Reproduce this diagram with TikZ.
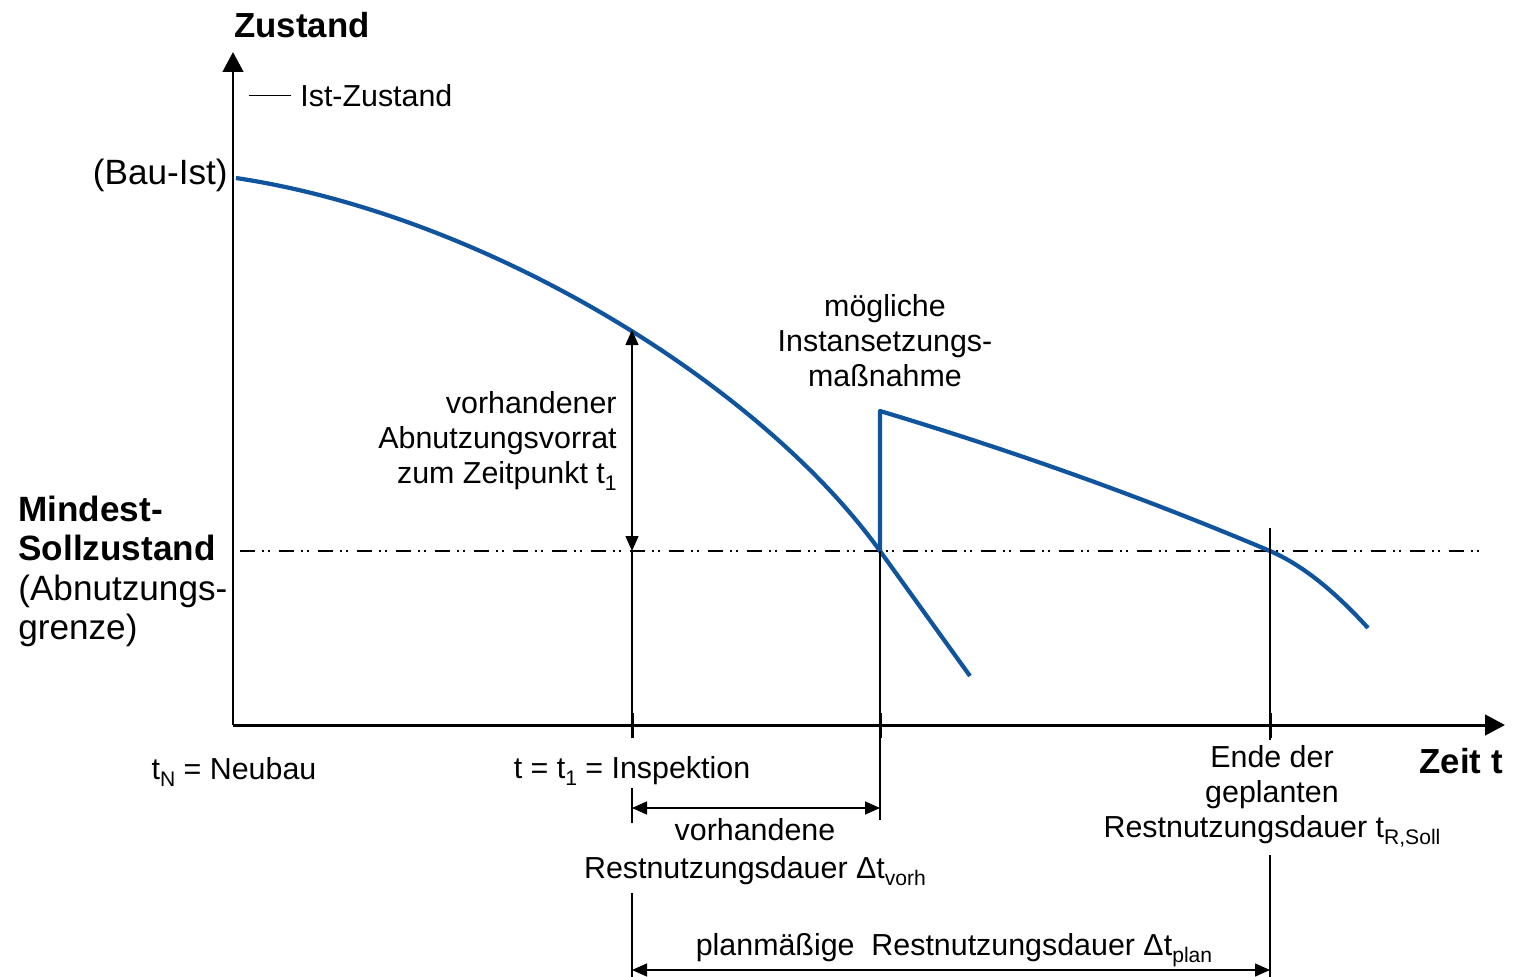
\documentclass[tikz,border=0pt]{standalone}
\usepackage{fontspec}
\setmainfont{Liberation Sans}
\usepackage{tikz}
\usepackage{xcolor}
\definecolor{zblue}{RGB}{16,84,158}
\usetikzlibrary{arrows.meta,positioning}
\newcommand{\lo}[1]{\raisebox{-0.45ex}{\fontsize{12}{12}\selectfont #1}}

\begin{document}
\begin{tikzpicture}[x=0.02cm,y=-0.02cm,
    every node/.style={inner sep=0pt,font=\fontsize{17.3}{19.8}\selectfont},
    big/.style={font=\fontsize{20}{22.2}\selectfont},
    bold/.style={font=\fontsize{19.8}{22}\selectfont\bfseries},
    axis/.style={line width=1.7pt,-{Triangle[length=0.4cm,width=0.41cm]}},
    dim/.style={line width=0.8pt,{Triangle[length=0.3cm,width=0.26cm]}-{Triangle[length=0.3cm,width=0.26cm]}},
    guide/.style={line width=0.8pt},
    soll/.style={line width=1.6pt,dash pattern=on 0.3cm off 0.14cm on 0.04cm off 0.08cm on 0.04cm off 0.18cm},
    zustand/.style={draw=zblue,line width=2.4pt,line join=round}]
    \useasboundingbox (0,0) rectangle (1515,977);
    \coordinate (O) at (233,725);
    \coordinate (ytip) at (233,52);
    \coordinate (xtip) at (1505,725);
    \coordinate (bau) at (236,178);
    \coordinate (insp) at (632,330);
    \coordinate (fail) at (880,551);
    \coordinate (fail2) at (970,676);
    \coordinate (repair) at (880,411);
    \coordinate (rsoll) at (1270,551);
    \coordinate (end2) at (1368,628);
    \coordinate (sollL) at (240,551);
    \coordinate (sollR) at (1484,551);

    \draw[soll] (sollL) -- (sollR);
    \draw[axis] (O) -- (ytip);
    \draw[axis] (O) -- (xtip);

    \draw[zustand] (bau) .. controls (486,215.5) and (760,384) .. (fail) -- (fail2);
    \draw[zustand] (fail) -- (repair) .. controls (1010,450) and (1140,496) .. (rsoll)
        .. controls (1305,566) and (1338,595) .. (end2);

    \draw[dim] (insp) -- (insp |- fail);
    \draw[guide] (insp |- fail) -- (632,738);
    \draw[guide] (632,788) -- (632,823);
    \draw[guide] (632,893) -- (632,977);
    \draw[guide] (fail) -- (880,820);
    \draw[guide] (1270,528) -- (1270,740);
    \draw[guide] (1270,855) -- (1270,977);
    \foreach \x in {632,880,1270}
        \draw[line width=1.7pt] (\x,713) -- (\x,738);
    \draw[dim] (632,808) -- (880,808);
    \draw[dim] (632,970) -- (1270,970);

    \node[bold,anchor=base] (zustandlbl) at (302,37) {Zustand};
    \node[anchor=base west] (ist) at (300,106.5) {Ist-Zustand};
    \draw[guide] ([xshift=-0.18cm]ist.west) -- ++(-0.84cm,0);
    \node[big,anchor=base east] (bauist) at (228,184) {(Bau-Ist)};
    \node[big,anchor=base west,align=left] (mindest) at (18,639)
        {\bfseries Mindest-\\\bfseries Sollzustand\\(Abnutzungs-\\grenze)};
    \node[anchor=base east,align=right] (vorrat) at (617,483)
        {vorhandener\\Abnutzungsvorrat\\zum Zeitpunkt t\lo{1}};
    \node[anchor=base,align=center] (massnahme) at (885,386)
        {mögliche\\Instansetzungs-\\maßnahme};
    \node[anchor=base] (neubau) at (234,779) {t\lo{N} = Neubau};
    \node[anchor=base] (inspektion) at (632,778) {t = t\lo{1} = Inspektion};
    \node[bold,anchor=base east] (zeit) at (1503,773) {Zeit t};
    \node[anchor=base,align=center] (ende) at (1272,837)
        {Ende der\\geplanten\\Restnutzungsdauer t\lo{R,Soll}};
    \node[anchor=base,align=center,font=\fontsize{17.3}{21.3}\selectfont] (vorh) at (755,878)
        {vorhandene\\Restnutzungsdauer Δt\lo{vorh}};
    \node[anchor=base] (plan) at (954,955) {planmäßige\ \ Restnutzungsdauer Δt\lo{plan}};
\end{tikzpicture}
\end{document}
